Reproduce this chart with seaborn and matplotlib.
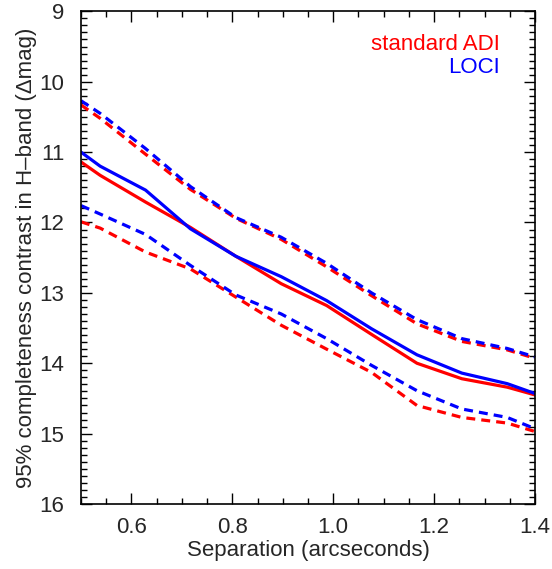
import numpy as np
import pandas as pd
import matplotlib
matplotlib.use("Agg")
import matplotlib.pyplot as plt
import seaborn as sns
from matplotlib.ticker import MultipleLocator

sep = [0.50, 0.538, 0.628, 0.717, 0.807, 0.897, 0.987, 1.076, 1.166, 1.255, 1.345, 1.40]

loci_med = [11.00, 11.20, 11.54, 12.09, 12.48, 12.77, 13.11, 13.51, 13.88, 14.14, 14.29, 14.43]
adi_med = [11.14, 11.33, 11.71, 12.07, 12.48, 12.87, 13.18, 13.59, 14.00, 14.22, 14.34, 14.45]
loci_up = [10.27, 10.45, 10.95, 11.49, 11.93, 12.21, 12.58, 13.00, 13.38, 13.65, 13.79, 13.91]
adi_up = [10.33, 10.52, 11.03, 11.53, 11.94, 12.24, 12.63, 13.04, 13.44, 13.69, 13.81, 13.93]
loci_lo = [11.76, 11.88, 12.17, 12.61, 13.03, 13.30, 13.65, 14.03, 14.39, 14.65, 14.77, 14.93]
adi_lo = [11.99, 12.08, 12.42, 12.66, 13.06, 13.46, 13.80, 14.13, 14.60, 14.77, 14.85, 14.97]

series = {
    ("standard ADI", "median"): adi_med,
    ("standard ADI", "upper"): adi_up,
    ("standard ADI", "lower"): adi_lo,
    ("LOCI", "median"): loci_med,
    ("LOCI", "upper"): loci_up,
    ("LOCI", "lower"): loci_lo,
}
rows = []
for (method, bound), vals in series.items():
    for s, v in zip(sep, vals):
        rows.append({"sep": s, "contrast": v, "method": method, "bound": bound})
df = pd.DataFrame(rows)

sns.set_style("ticks")
plt.rcParams["font.family"] = ["Liberation Sans", "DejaVu Sans"]

fig = plt.figure(figsize=(5.52, 5.69), dpi=100)
ax = fig.add_axes([0.1467, 0.1142, 0.8225, 0.8659])

palette = {"standard ADI": "#ff0000", "LOCI": "#0000ff"}
dashes = {"median": "", "upper": (2.8, 1.9), "lower": (2.8, 1.9)}
sns.lineplot(data=df, x="sep", y="contrast", hue="method", style="bound",
             palette=palette, dashes=dashes, estimator=None, sort=False,
             linewidth=2.3, legend=False, ax=ax)

ax.set_xlim(0.5, 1.4)
ax.set_ylim(16, 9)
ax.xaxis.set_major_locator(MultipleLocator(0.2))
ax.xaxis.set_minor_locator(MultipleLocator(0.05))
ax.yaxis.set_major_locator(MultipleLocator(1))
ax.yaxis.set_minor_locator(MultipleLocator(0.1))
ax.set_xticks([0.6, 0.8, 1.0, 1.2, 1.4])
ax.set_xticklabels(["0.6", "0.8", "1.0", "1.2", "1.4"])
ax.set_xlim(0.5, 1.4)
ax.tick_params(which="both", direction="in", top=True, right=True,
               labelsize=16, width=1, color="black")
ax.tick_params(axis="x", pad=9)
ax.tick_params(axis="y", pad=12)
ax.tick_params(which="major", length=8)
ax.tick_params(which="minor", length=4)
for sp in ax.spines.values():
    sp.set_linewidth(1.2)
    sp.set_color("black")

ax.set_xlabel("Separation (arcseconds)", fontsize=16)
ax.xaxis.set_label_coords(0.5, -0.074)
ax.set_ylabel("95% completeness contrast in H\u2013band (\u0394mag)", fontsize=16)
ax.yaxis.set_label_coords(-0.097, 0.5)

ax.text(0.923, 0.932, "standard ADI", color="#ff0000", fontsize=16,
        ha="right", va="center", transform=ax.transAxes)
ax.text(0.923, 0.885, "LOCI", color="#0000ff", fontsize=16,
        ha="right", va="center", transform=ax.transAxes)

fig.savefig("out.png", dpi=100)
